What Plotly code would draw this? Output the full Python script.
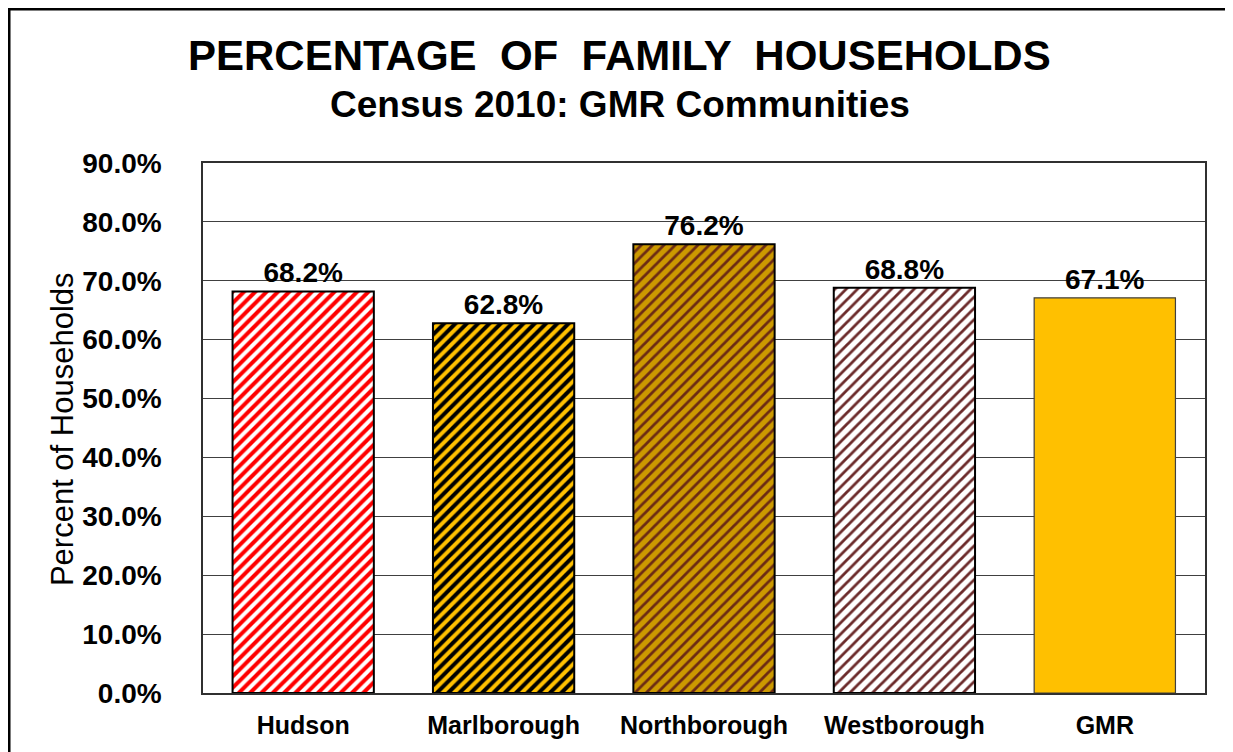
import plotly.graph_objects as go

# Census 2010 family household shares
communities = ["Hudson", "Marlborough", "Northborough", "Westborough", "GMR"]
pct_family = [0.682, 0.628, 0.762, 0.688, 0.671]
label_text = ["68.2%", "62.8%", "76.2%", "68.8%", "67.1%"]
y_ticks = [0.0, 0.1, 0.2, 0.3, 0.4, 0.5, 0.6, 0.7, 0.8, 0.9]

# fill styles per bar
bg_colors = ["#FFFFFF", "#000000", "#CC9900", "#FFFFFF", "#FFC000"]
fg_colors = ["#FF0000", "#FFC000", "#6B2A14", "#6B2A2A", "#FFC000"]
shapes = ["/", "/", "/", "/", ""]
solidity = [0.5, 0.5, 0.35, 0.35, 0.0]
edge_colors = ["#000000", "#000000", "#000000", "#000000", "#404040"]
edge_widths = [2, 2, 2, 2, 1.2]

FONT = "Liberation Sans, Arial, sans-serif"

fig = go.Figure()

for i, name in enumerate(communities):
    fig.add_trace(go.Bar(
        x=[name],
        y=[pct_family[i]],
        width=0.705,
        text=[label_text[i]],
        textposition="outside",
        textfont=dict(family=FONT, size=28, color="#000000", weight="bold"),
        cliponaxis=False,
        marker=dict(
            color=bg_colors[i],
            line=dict(color=edge_colors[i], width=edge_widths[i]),
            pattern=dict(
                shape=shapes[i],
                fgcolor=fg_colors[i],
                fgopacity=1,
                size=8,
                solidity=solidity[i],
                fillmode="overlay",
            ),
        ),
        showlegend=False,
    ))

fig.update_layout(
    width=1233,
    height=752,
    margin=dict(l=195, r=36, t=155, b=67),
    paper_bgcolor="white",
    plot_bgcolor="white",
    font=dict(family=FONT, color="#000000"),
    barmode="overlay",
    xaxis=dict(
        showline=True,
        linecolor="#303030",
        linewidth=1.5,
        mirror=True,
        showgrid=False,
        ticks="",
        ticklabelstandoff=9,
        tickfont=dict(family=FONT, size=25, color="#000000", weight="bold"),
    ),
    yaxis=dict(
        range=[0, 0.9],
        tickvals=y_ticks,
        tickformat=".1%",
        showline=True,
        linecolor="#303030",
        linewidth=1.5,
        mirror=True,
        showgrid=True,
        gridcolor="#404040",
        gridwidth=1,
        zeroline=False,
        ticks="",
        ticklabelstandoff=34,
        tickfont=dict(family=FONT, size=28, color="#000000", weight="bold"),
    ),
    annotations=[
        dict(text="<b>PERCENTAGE  OF  FAMILY  HOUSEHOLDS</b>", xref="paper", yref="paper",
             x=0.416, y=1.2019, xanchor="center", yanchor="middle", showarrow=False,
             font=dict(family=FONT, size=42, color="#000000")),
        dict(text="<b>Census 2010: GMR Communities</b>", xref="paper", yref="paper",
             x=0.416, y=1.111, xanchor="center", yanchor="middle", showarrow=False,
             font=dict(family=FONT, size=37, color="#000000")),
        dict(text="Percent of Households", xref="paper", yref="paper",
             x=-0.1407, y=0.498, xanchor="center", yanchor="middle", showarrow=False,
             textangle=-90, font=dict(family=FONT, size=31, color="#000000")),
    ],
    shapes=[
        dict(type="rect", xref="paper", yref="paper",
             x0=-0.1936, x1=1.3, y0=-0.5, y1=1.2906,
             line=dict(color="#000000", width=3), fillcolor="rgba(0,0,0,0)", layer="above"),
    ],
)

fig.write_html("out.html")
